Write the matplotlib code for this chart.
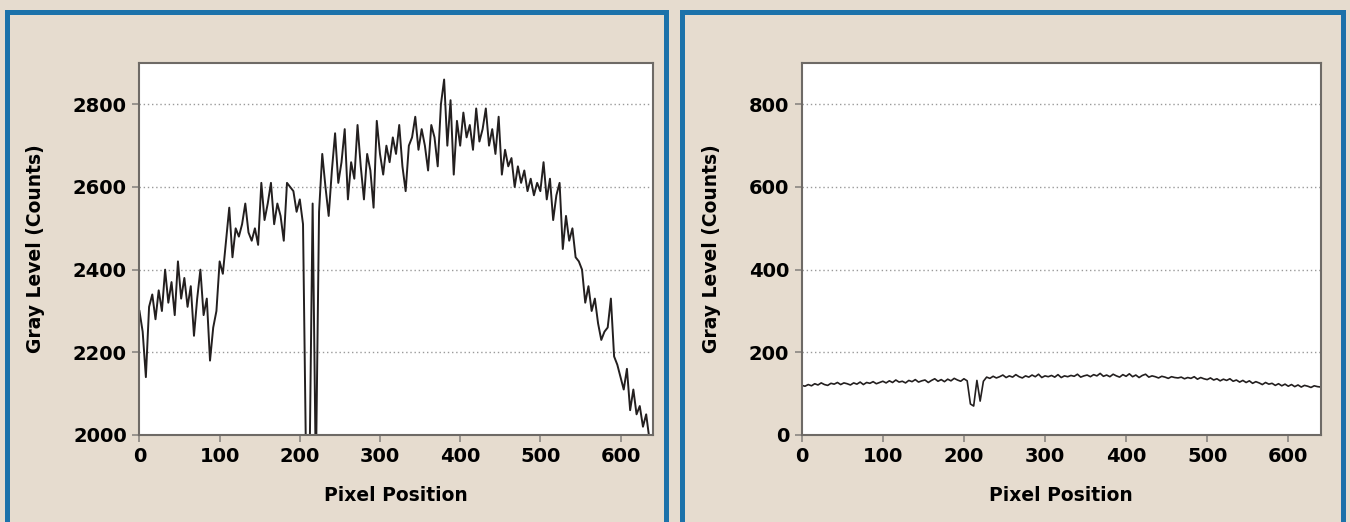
import numpy as np
import matplotlib.pyplot as plt
from matplotlib.patches import Rectangle

# gray level profiles, read every 4 pixels
gray_left = [2300, 2250, 2140, 2310, 2340, 2280, 2350, 2300, 2400, 2320,
             2370, 2290, 2420, 2330, 2380, 2310, 2360, 2240, 2330, 2400,
             2290, 2330, 2180, 2260, 2300, 2420, 2390, 2470, 2550, 2430,
             2500, 2480, 2510, 2560, 2490, 2470, 2500, 2460, 2610, 2520,
             2560, 2610, 2510, 2560, 2530, 2470, 2610, 2600, 2590, 2540,
             2570, 2510, 1900, 1900, 2560, 1900, 2540, 2680, 2600, 2530,
             2640, 2730, 2610, 2660, 2740, 2570, 2660, 2620, 2750, 2650,
             2570, 2680, 2640, 2550, 2760, 2680, 2630, 2700, 2660, 2720,
             2680, 2750, 2650, 2590, 2700, 2720, 2770, 2690, 2740, 2700,
             2640, 2750, 2720, 2650, 2800, 2860, 2700, 2810, 2630, 2760,
             2700, 2780, 2720, 2750, 2690, 2790, 2710, 2740, 2790, 2700,
             2740, 2680, 2770, 2630, 2690, 2650, 2670, 2600, 2650, 2610,
             2640, 2590, 2620, 2580, 2610, 2590, 2660, 2570, 2620, 2520,
             2580, 2610, 2450, 2530, 2470, 2500, 2430, 2420, 2400, 2320,
             2360, 2300, 2330, 2270, 2230, 2250, 2260, 2330, 2190, 2170,
             2140, 2110, 2160, 2060, 2110, 2050, 2070, 2020, 2050, 1990]

gray_right = [120, 118, 122, 119, 124, 121, 126, 122, 120, 125,
              123, 127, 122, 126, 124, 121, 126, 123, 128, 122,
              127, 125, 129, 124, 127, 130, 126, 131, 127, 133,
              128, 130, 126, 132, 129, 134, 128, 131, 133, 127,
              132, 136, 130, 134, 129, 135, 131, 137, 133, 130,
              136, 131, 75, 70, 132, 82, 130, 140, 137, 142,
              138, 141, 145, 139, 143, 140, 146, 141, 138, 143,
              140, 145, 141, 147, 139, 143, 141, 144, 140, 146,
              139, 143, 141, 144, 142, 147, 140, 143, 145, 141,
              146, 143, 149, 142, 145, 141, 147, 143, 140, 146,
              142, 148, 141, 145, 139, 144, 147, 140, 143, 141,
              138, 142, 140, 137, 141, 139, 138, 140, 136, 139,
              137, 141, 135, 139, 136, 134, 138, 133, 136, 131,
              135, 132, 136, 130, 133, 128, 132, 127, 131, 125,
              129, 126, 122, 127, 123, 125, 120, 124, 119, 123,
              118, 122, 117, 121, 116, 120, 118, 115, 119, 117, 116]

pix_left = np.arange(len(gray_left)) * 4
pix_right = np.arange(len(gray_right)) * 4

bg = '#e6dccf'
blue = '#1c72aa'
fig = plt.figure(figsize=(13.5, 5.22), dpi=100, facecolor=bg)

# blue panel frames
for x0, x1 in [(6.5, 665.5), (681.5, 1342.5)]:
    fig.patches.append(Rectangle((x0 / 1350, -0.05), (x1 - x0) / 1350, 1 - 12 / 522 + 0.05,
                                 transform=fig.transFigure, fill=False,
                                 edgecolor=blue, linewidth=3.6))

font = dict(family='DejaVu Sans', weight='bold')

def style(ax, ylim, yticks):
    ax.set_xlim(0, 640)
    ax.set_ylim(*ylim)
    ax.set_xticks([0, 100, 200, 300, 400, 500, 600])
    ax.set_yticks(yticks)
    ax.grid(axis='y', linestyle=(0, (1, 2)), color='#9a9a9a', linewidth=1)
    ax.set_axisbelow(True)
    for s in ax.spines.values():
        s.set_color('#6e6a66')
        s.set_linewidth(1.5)
    ax.tick_params(length=5, width=1.2, color='#8a8682', pad=4)
    for lab in ax.get_xticklabels() + ax.get_yticklabels():
        lab.set_fontsize(14)
        lab.set_fontweight('bold')
    ax.set_xlabel('Pixel Position', fontsize=13.5, labelpad=14, **font)
    ax.set_ylabel('Gray Level (Counts)', fontsize=13.5, labelpad=20, **font)

ax1 = fig.add_axes([0.1033, 0.1667, 0.3801, 0.7126])
ax1.plot(pix_left, gray_left, color='#231f1f', linewidth=1.4)
style(ax1, (2000, 2900), [2000, 2200, 2400, 2600, 2800])

ax2 = fig.add_axes([0.5939, 0.1667, 0.3844, 0.7126])
ax2.plot(pix_right, gray_right, color='#231f1f', linewidth=1.2)
style(ax2, (0, 900), [0, 200, 400, 600, 800])

fig.savefig('out.png', dpi=100, facecolor=bg)
